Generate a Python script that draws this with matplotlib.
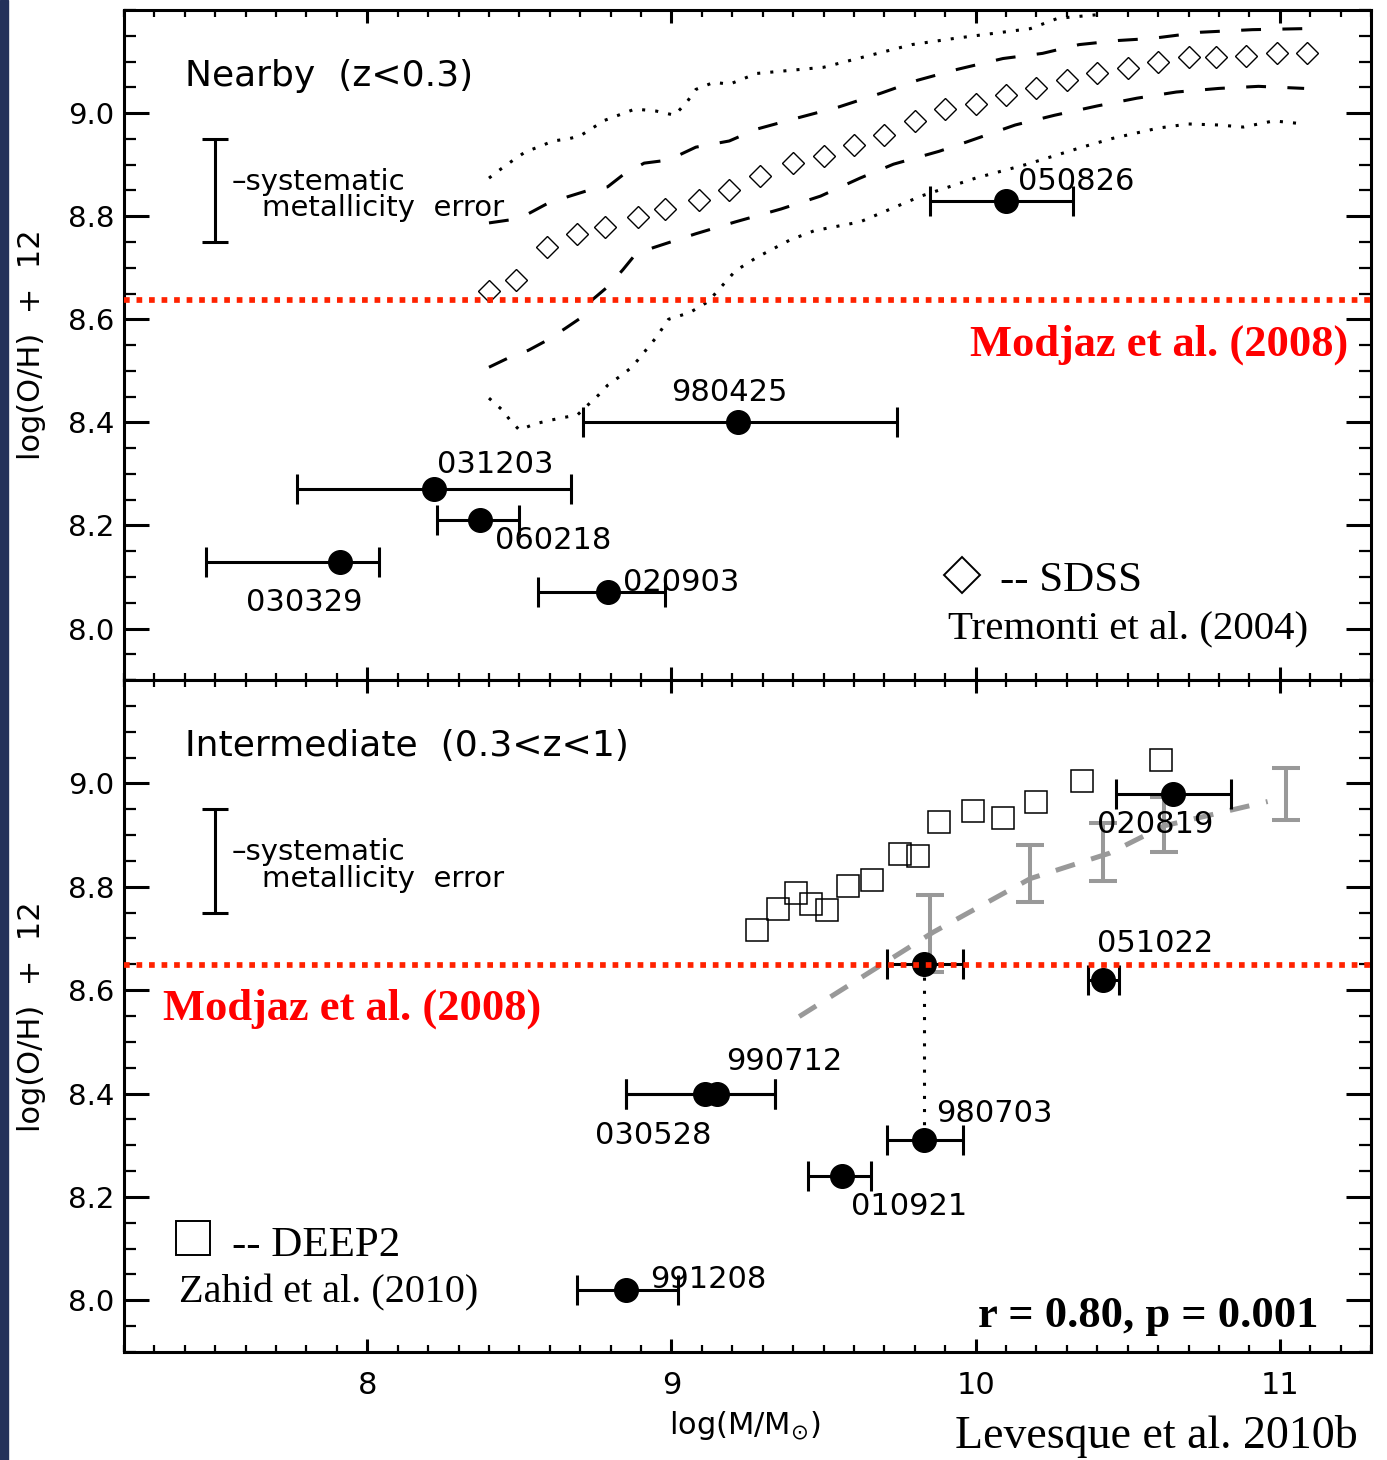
import matplotlib
matplotlib.use('Agg')
import matplotlib.pyplot as plt
from matplotlib.ticker import MultipleLocator, FixedLocator, FormatStrFormatter
from matplotlib.patches import Rectangle

# GRB hosts, nearby sample (z < 0.3)
near_names = ['030329', '031203', '060218', '020903', '980425', '050826']
near_mass = [7.91, 8.22, 8.37, 8.79, 9.22, 10.10]
near_mass_lo = [7.47, 7.77, 8.23, 8.56, 8.71, 9.85]
near_mass_hi = [8.04, 8.67, 8.50, 8.98, 9.74, 10.32]
near_oh = [8.13, 8.27, 8.21, 8.07, 8.40, 8.83]

# GRB hosts, intermediate sample (0.3 < z < 1)
mid_names = ['991208', '030528', '990712', '010921', '980703', '980703', '051022', '020819']
mid_mass = [8.85, 9.11, 9.15, 9.56, 9.83, 9.83, 10.42, 10.65]
mid_mass_lo = [8.69, 8.85, 8.85, 9.45, 9.71, 9.71, 10.37, 10.46]
mid_mass_hi = [9.02, 9.34, 9.34, 9.655, 9.96, 9.96, 10.47, 10.84]
mid_oh = [8.02, 8.40, 8.40, 8.24, 8.65, 8.31, 8.62, 8.98]

# SDSS mass-metallicity relation (Tremonti et al. 2004)
sdss_mass = [8.40, 8.49, 8.59, 8.69, 8.78, 8.89, 8.98, 9.09, 9.19, 9.29,
             9.40, 9.50, 9.60, 9.70, 9.80, 9.90, 10.00, 10.10, 10.20, 10.30,
             10.40, 10.50, 10.60, 10.70, 10.79, 10.89, 10.99, 11.09]
sdss_oh = [8.654, 8.677, 8.741, 8.766, 8.780, 8.799, 8.814, 8.832, 8.851, 8.878,
           8.903, 8.917, 8.938, 8.957, 8.985, 9.008, 9.018, 9.036, 9.048, 9.064,
           9.078, 9.087, 9.099, 9.108, 9.108, 9.111, 9.117, 9.117]

# 1-sigma envelope
sig1_hi_mass = [8.40, 8.47, 8.53, 8.59, 8.66, 8.72, 8.79, 8.84, 8.91, 8.99, 9.08, 9.19,
                9.28, 9.41, 9.55, 9.69, 9.81, 9.94, 10.09, 10.22, 10.34, 10.47, 10.58,
                10.74, 10.91, 11.08]
sig1_hi_oh = [8.787, 8.793, 8.805, 8.824, 8.838, 8.849, 8.857, 8.880, 8.903, 8.909, 8.934,
              8.946, 8.969, 8.990, 9.012, 9.039, 9.064, 9.085, 9.106, 9.116, 9.133, 9.141,
              9.145, 9.157, 9.162, 9.164]
sig1_lo_mass = [8.40, 8.46, 8.53, 8.59, 8.65, 8.70, 8.74, 8.79, 8.84, 8.88, 8.94, 9.08,
                9.21, 9.36, 9.49, 9.62, 9.73, 9.88, 9.97, 10.13, 10.26, 10.40, 10.53,
                10.66, 10.80, 10.93, 11.08]
sig1_lo_oh = [8.507, 8.524, 8.540, 8.559, 8.582, 8.602, 8.638, 8.663, 8.696, 8.725, 8.739,
              8.766, 8.789, 8.814, 8.839, 8.874, 8.901, 8.926, 8.944, 8.977, 8.996, 9.014,
              9.029, 9.041, 9.048, 9.052, 9.048]

# 2-sigma envelope
sig2_hi_mass = [8.40, 8.44, 8.48, 8.52, 8.57, 8.61, 8.66, 8.70, 8.74, 8.78, 8.88, 8.95,
                9.01, 9.05, 9.08, 9.14, 9.19, 9.28, 9.50, 9.79, 9.93, 10.18, 10.27, 10.40]
sig2_hi_oh = [8.874, 8.892, 8.909, 8.925, 8.936, 8.946, 8.950, 8.956, 8.971, 8.986, 9.008,
              9.004, 8.996, 9.021, 9.046, 9.060, 9.056, 9.077, 9.089, 9.133, 9.145, 9.164,
              9.184, 9.191]
sig2_lo_mass = [8.40, 8.44, 8.47, 8.50, 8.55, 8.60, 8.65, 8.69, 8.72, 8.76, 8.79, 8.83,
                8.87, 8.95, 8.99, 9.06, 9.12, 9.21, 9.28, 9.39, 9.47, 9.62, 9.72, 9.82,
                10.00, 10.17, 10.35, 10.45, 10.60, 10.70, 10.80, 10.88, 10.98, 11.08]
sig2_lo_oh = [8.447, 8.426, 8.404, 8.385, 8.397, 8.404, 8.410, 8.414, 8.431, 8.453, 8.472,
              8.489, 8.507, 8.565, 8.600, 8.613, 8.634, 8.694, 8.720, 8.754, 8.772, 8.789,
              8.814, 8.839, 8.874, 8.901, 8.934, 8.951, 8.971, 8.979, 8.977, 8.973, 8.985,
              8.979]

# DEEP2 galaxies (Zahid et al. 2010)
deep2_mass = [9.28, 9.35, 9.41, 9.46, 9.51, 9.58, 9.66, 9.75, 9.81, 9.88, 9.99,
              10.09, 10.20, 10.35, 10.61]
deep2_oh = [8.717, 8.758, 8.788, 8.766, 8.756, 8.802, 8.814, 8.864, 8.860, 8.925,
            8.946, 8.934, 8.965, 9.004, 9.046]

# GRB host trend with binned scatter
trend_mass = [9.42, 9.86, 10.18, 10.44, 10.62, 10.96]
trend_oh = [8.549, 8.712, 8.816, 8.865, 8.918, 8.965]
bin_mass = [9.85, 10.18, 10.42, 10.62, 11.02]
bin_oh = [8.71, 8.825, 8.868, 8.92, 8.979]
bin_err = [0.075, 0.055, 0.056, 0.053, 0.05]

modjaz_near = 8.637
modjaz_mid = 8.648

oh_ticks = [8.0, 8.2, 8.4, 8.6, 8.8, 9.0]

# label anchors (left edge, vertical centre) for each host
near_label_xy = [(7.60, 8.050), (8.23, 8.319), (8.42, 8.170), (8.84, 8.089),
                 (9.00, 8.458), (10.14, 8.868)]
mid_label_xy = [(8.93, 8.041), (8.75, 8.319), (9.18, 8.462), (9.59, 8.182),
                None, (9.87, 8.362), (10.40, 8.691), (10.40, 8.921)]

SERIF = 'Liberation Serif'
RED = '#ff2200'

fig = plt.figure(figsize=(13.87, 14.6), dpi=100)
fig.add_artist(Rectangle((0, 0), 8 / 1387, 1, transform=fig.transFigure,
                         color='#24315a', zorder=0))

ax1 = fig.add_axes([0.0894, 0.5342, 0.8991, 0.4589])
ax2 = fig.add_axes([0.0894, 0.0740, 0.8991, 0.4602])


def style_axes(ax):
    ax.set_xlim(7.2, 11.3)
    ax.set_ylim(7.9, 9.2)
    ax.xaxis.set_major_locator(MultipleLocator(1))
    ax.xaxis.set_minor_locator(MultipleLocator(0.1))
    ax.yaxis.set_major_locator(FixedLocator(oh_ticks))
    ax.yaxis.set_minor_locator(MultipleLocator(0.05))
    ax.yaxis.set_major_formatter(FormatStrFormatter('%.1f'))
    for s in ax.spines.values():
        s.set_linewidth(2.2)
    ax.tick_params(which='both', direction='in', top=True, right=True)
    ax.tick_params(axis='y', which='major', length=18, width=2.2, pad=7, labelsize=21)
    ax.tick_params(axis='y', which='minor', length=8.7, width=1.6)
    ax.tick_params(axis='x', which='major', length=9.4, width=2.2, pad=14, labelsize=22)
    ax.tick_params(axis='x', which='minor', length=5, width=1.6)


def systematic_bar(ax):
    ax.errorbar([7.5], [8.85], yerr=[0.1], fmt='none', ecolor='k', elinewidth=2.2,
                capsize=9.5, capthick=2.2)
    ax.text(7.555, 8.867, '–systematic', fontsize=21, va='center', ha='left')
    ax.text(7.655, 8.816, 'metallicity  error', fontsize=21, va='center', ha='left')


def grb_points(ax, mass, lo, hi, oh):
    xerr = [[m - l for m, l in zip(mass, lo)], [h - m for m, h in zip(mass, hi)]]
    ax.errorbar(mass, oh, xerr=xerr, fmt='o', color='k', ms=17, elinewidth=2.2,
                capsize=10.5, capthick=2.2, zorder=5)


# nearby panel
style_axes(ax1)
ax1.tick_params(axis='x', labelbottom=False)
ax1.plot(sig2_hi_mass, sig2_hi_oh, color='k', lw=2.2, ls=(0, (1, 3.3)))
ax1.plot(sig2_lo_mass, sig2_lo_oh, color='k', lw=2.2, ls=(0, (1, 3.3)))
ax1.plot(sig1_hi_mass, sig1_hi_oh, color='k', lw=2.2, ls=(0, (6.5, 7)))
ax1.plot(sig1_lo_mass, sig1_lo_oh, color='k', lw=2.2, ls=(0, (6.5, 7)))
ax1.plot(sdss_mass, sdss_oh, 'D', ms=11.7, mfc='none', mec='k', mew=1.0)
grb_points(ax1, near_mass, near_mass_lo, near_mass_hi, near_oh)
ax1.axhline(modjaz_near, color=RED, lw=4.1, ls=(0, (1, 1.2)), zorder=8)
systematic_bar(ax1)
ax1.text(7.40, 9.072, 'Nearby  (z<0.3)', fontsize=26, va='center', ha='left')
for name, xy in zip(near_names, near_label_xy):
    ax1.text(xy[0], xy[1], name, fontsize=22, va='center', ha='left')
ax1.text(11.224, 8.551, 'Modjaz et al. (2008)', family=SERIF, weight='bold',
         fontsize=32, color='#ff0000', va='center', ha='right')
ax1.plot([9.954], [8.104], 'D', ms=18.8, mfc='none', mec='k', mew=1.4)
ax1.text(10.08, 8.093, '-- SDSS', family=SERIF, fontsize=31, va='center', ha='left')
ax1.text(9.91, 8.0, 'Tremonti et al. (2004)', family=SERIF, fontsize=29.5,
         va='center', ha='left')

# intermediate panel
style_axes(ax2)
ax2.plot(deep2_mass, deep2_oh, 's', ms=16.5, mfc='none', mec='k', mew=1.1)
ax2.plot(trend_mass, trend_oh, color='#999999', lw=3.6, ls=(0, (4, 3.4)))
ax2.errorbar(bin_mass, bin_oh, yerr=bin_err, fmt='none', ecolor='#999999',
             elinewidth=2.9, capsize=10, capthick=2.9)
ax2.plot([mid_mass[4], mid_mass[5]], [mid_oh[4], mid_oh[5]], color='k', lw=2.2,
         ls=(0, (1, 3.3)), zorder=4)
grb_points(ax2, mid_mass, mid_mass_lo, mid_mass_hi, mid_oh)
ax2.axhline(modjaz_mid, color=RED, lw=4.1, ls=(0, (1, 1.2)), zorder=8)
systematic_bar(ax2)
ax2.text(7.40, 9.073, 'Intermediate  (0.3<z<1)', fontsize=26, va='center', ha='left')
for name, xy in zip(mid_names, mid_label_xy):
    if xy is not None:
        ax2.text(xy[0], xy[1], name, fontsize=22, va='center', ha='left')
ax2.text(7.329, 8.565, 'Modjaz et al. (2008)', family=SERIF, weight='bold',
         fontsize=32, color='#ff0000', va='center', ha='left')
ax2.plot([7.428], [8.12], 's', ms=25, mfc='none', mec='k', mew=1.4)
ax2.text(7.556, 8.106, '-- DEEP2', family=SERIF, fontsize=31, va='center', ha='left')
ax2.text(7.382, 8.014, 'Zahid et al. (2010)', family=SERIF, fontsize=29,
         va='center', ha='left')
ax2.text(11.128, 7.969, 'r = 0.80, p = 0.001', family=SERIF, weight='bold',
         fontsize=32, va='center', ha='right')

fig.text(32 / 1387, 1 - 345 / 1460, 'log(O/H)  +  12', fontsize=22, rotation=90,
         ha='center', va='center')
fig.text(32 / 1387, 1 - 1017 / 1460, 'log(O/H)  +  12', fontsize=22, rotation=90,
         ha='center', va='center')
fig.text(745 / 1387, 1 - 1425 / 1460, r'log(M/M$_{\odot}$)', fontsize=22,
         ha='center', va='center')
fig.text(955 / 1387, 1 - 1437 / 1460, 'Levesque et al. 2010b', family=SERIF,
         fontsize=33, ha='left', va='center')

fig.savefig('out.png', dpi=100)
